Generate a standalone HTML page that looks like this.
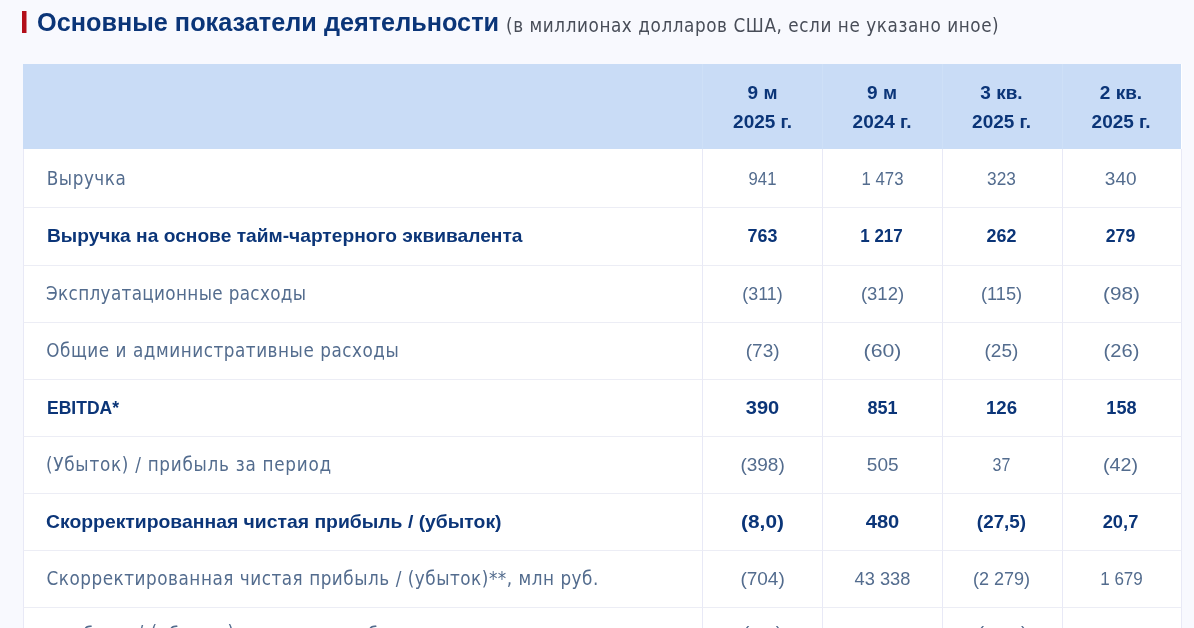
<!DOCTYPE html>
<html lang="ru">
<head>
<meta charset="utf-8">
<title>Основные показатели деятельности</title>
<style>
html,body{margin:0;padding:0;}
body{width:1194px;height:628px;overflow:hidden;background:#f8f9fe;font-family:"Liberation Sans", sans-serif;position:relative;}
.bar{position:absolute;left:22px;top:11px;width:4px;height:22px;background:#b30f1a;box-shadow:1px 0 0 rgba(179,15,26,.5);}
h2{margin:0;font-weight:400;font-size:18.7px;}
.t{position:absolute;white-space:nowrap;line-height:20px;transform-origin:0 50%;}
.t1{font-weight:700;color:#0b3578;font-size:26.5px;line-height:30px;}
.t2{font-family:"DejaVu Sans Condensed", "DejaVu Sans", "Liberation Sans", sans-serif;color:#484d58;font-size:18.7px;}
.wrap{position:absolute;left:23px;top:64px;width:1159px;height:564px;overflow:hidden;background:#fff;}
table{border-collapse:separate;border-spacing:0;table-layout:fixed;width:1159px;margin:0;}
th,td{position:relative;padding:0;margin:0;border:0 solid #e8e9f6;border-right-width:1px;overflow:visible;font-weight:400;text-align:left;}
th:first-child,td:first-child{border-left-width:1px;}
th{height:85px;background:#c9dcf6;border-color:#cee0f7;}
th:first-child{border-left-color:#c9dcf6;}
th:last-child{border-right-color:#fff;}
td{border-bottom:1px solid #ecedf5;background:#fff;}
.th{width:119px;text-align:center;font-weight:700;font-size:19px;color:#0b3578;}
.r{font-family:"DejaVu Sans Condensed", "DejaVu Sans", "Liberation Sans", sans-serif;font-size:18.7px;color:#536c8e;}
.b{font-weight:700;font-size:19px;color:#0b3578;}
.n{width:119px;text-align:center;transform-origin:50% 50%;font-size:19px;color:#536c8e;}
.n.b{color:#0b3578;}
.u{position:relative;}
</style>
</head>
<body>
<div class="bar"></div>
<h2><span class="t t1" id="t1" style="left:37.2px;top:7.1px;transform:scaleX(0.9536);">Основные показатели деятельности</span> <span class="t t2" id="t2" style="left:506px;top:15.5px;letter-spacing:0.585px;">(в миллионах долларов США, если не указано иное)</span></h2>
<div class="wrap">
<table>
<colgroup><col style="width:680px"><col style="width:120px"><col style="width:120px"><col style="width:120px"><col style="width:119px"></colgroup>
<thead>
<tr>
<th></th>
<th><span class="t th" style="left:0px;top:18.9px">9 м</span> <span class="t th" style="left:0px;top:47.7px">2025 г.</span></th>
<th><span class="t th" style="left:-0.5px;top:18.9px">9 м</span> <span class="t th" style="left:-0.5px;top:47.7px">2024 г.</span></th>
<th><span class="t th" style="left:-1.0px;top:18.9px">3 кв.</span> <span class="t th" style="left:-1.0px;top:47.7px">2025 г.</span></th>
<th><span class="t th" style="left:-1.5px;top:18.9px">2 кв.</span> <span class="t th" style="left:-1.5px;top:47.7px">2025 г.</span></th>
</tr>
</thead>
<tbody>
<tr style="height:59px">
<td><span class="t r" id="r0" style="left:22.8px;top:19.7px;letter-spacing:0.533px;">Выручка</span></td>
<td><span class="t n" style="left:0.1px;top:19.6px;transform:scaleX(0.877)">941</span></td>
<td><span class="t n" style="left:-0.3px;top:19.6px;transform:scaleX(0.883)">1 473</span></td>
<td><span class="t n" style="left:-1.1px;top:19.6px;transform:scaleX(0.908)">323</span></td>
<td><span class="t n" style="left:-1.8px;top:19.6px;transform:scaleX(1.000)">340</span></td>
</tr>
<tr style="height:58px">
<td><span class="t b" id="r1" style="left:23.0px;top:17.7px;transform:scaleX(1.0096);">Выручка на основе тайм-чартерного эквивалента</span></td>
<td><span class="t n b" style="left:-0.2px;top:17.7px;transform:scaleX(0.942)">763</span></td>
<td><span class="t n b" style="left:-0.6px;top:17.7px;transform:scaleX(0.893)">1 217</span></td>
<td><span class="t n b" style="left:-0.6px;top:17.7px;transform:scaleX(0.943)">262</span></td>
<td><span class="t n b" style="left:-1.9px;top:17.7px;transform:scaleX(0.932)">279</span></td>
</tr>
<tr style="height:57px">
<td><span class="t r" id="r2" style="left:22.0px;top:17.9px;letter-spacing:0.343px;">Эксплуатационные расходы</span></td>
<td><span class="t n" style="left:-0.3px;top:17.8px;transform:scaleX(0.939)">(311)</span></td>
<td><span class="t n" style="left:-0.5px;top:17.8px;transform:scaleX(0.973)">(312)</span></td>
<td><span class="t n" style="left:-0.6px;top:17.8px;transform:scaleX(0.959)">(115)</span></td>
<td><span class="t n" style="left:-1.5px;top:17.8px;transform:scaleX(1.091)">(98)</span></td>
</tr>
<tr style="height:57px">
<td><span class="t r" id="r3" style="left:22.3px;top:18.0px;letter-spacing:0.542px;">Общие и административные расходы</span></td>
<td><span class="t n" style="left:0.2px;top:17.9px;transform:scaleX(1.000)">(73)</span></td>
<td><span class="t n" style="left:-0.2px;top:17.9px;transform:scaleX(1.119)">(60)</span></td>
<td><span class="t n" style="left:-1.1px;top:17.9px;transform:scaleX(1.000)">(25)</span></td>
<td><span class="t n" style="left:-1.1px;top:17.9px;transform:scaleX(1.058)">(26)</span></td>
</tr>
<tr style="height:57px">
<td><span class="t b" id="r4" style="left:22.5px;top:18.0px;transform:scaleX(0.9223);">EBITDA*</span></td>
<td><span class="t n b" style="left:0.4px;top:18.0px;transform:scaleX(1.055)">390</span></td>
<td><span class="t n b" style="left:-0.3px;top:18.0px;transform:scaleX(0.949)">851</span></td>
<td><span class="t n b" style="left:-1.2px;top:18.0px;transform:scaleX(0.981)">126</span></td>
<td><span class="t n b" style="left:-1.2px;top:18.0px;transform:scaleX(0.955)">158</span></td>
</tr>
<tr style="height:57px">
<td><span class="t r" id="r5" style="left:22.0px;top:18.2px;letter-spacing:0.733px;">(Убыток) / прибыль за период</span></td>
<td><span class="t n" style="left:0.1px;top:18.1px;transform:scaleX(1.000)">(398)</span></td>
<td><span class="t n" style="left:0.2px;top:18.1px;transform:scaleX(1.000)">505</span></td>
<td><span class="t n" style="left:-1.3px;top:18.1px;transform:scaleX(0.840)">37</span></td>
<td><span class="t n" style="left:-1.7px;top:18.1px;transform:scaleX(1.036)">(42)</span></td>
</tr>
<tr style="height:57px">
<td><span class="t b" id="r6" style="left:22.3px;top:18.2px;transform:scaleX(1.0188);">Скорректированная чистая прибыль / (убыток)</span></td>
<td><span class="t n b" style="left:0.4px;top:18.2px;transform:scaleX(1.095)">(8,0)</span></td>
<td><span class="t n b" style="left:-0.5px;top:18.2px;transform:scaleX(1.058)">480</span></td>
<td><span class="t n b" style="left:-0.9px;top:18.2px;transform:scaleX(0.992)">(27,5)</span></td>
<td><span class="t n b" style="left:-2.1px;top:18.2px;transform:scaleX(0.964)">20,7</span></td>
</tr>
<tr style="height:57px">
<td><span class="t r" id="r7" style="left:22.5px;top:18.4px;letter-spacing:0.533px;">Скорректированная чистая прибыль / (убыток)**, млн руб.</span></td>
<td><span class="t n" style="left:0.1px;top:18.3px;transform:scaleX(1.000)">(704)</span></td>
<td><span class="t n" style="left:-0.2px;top:18.3px;transform:scaleX(0.960)">43 338</span></td>
<td><span class="t n" style="left:-1.2px;top:18.3px;transform:scaleX(0.950)">(2 279)</span></td>
<td><span class="t n" style="left:-1.2px;top:18.3px;transform:scaleX(0.896)">1 679</span></td>
</tr>
<tr style="height:58px">
<td><span class="t r" id="r8" style="left:22.0px;top:18.5px;letter-spacing:0.950px;">При<span class="u" style="top:-1.6px">б</span>ыль <span class="u" style="top:-3.1px">/</span> <span class="u" style="top:-3.1px">(</span>у<span class="u" style="top:-1.6px">б</span>ыток<span class="u" style="top:-3.1px">)</span> на акцию, ру<span class="u" style="top:-1.6px">б</span>.</span></td>
<td><span class="t n" style="left:0.0px;top:18.4px;transform:scaleX(1.000)"><span class="u" style="top:-3.7px">(</span>0,3<span class="u" style="top:-3.7px">)</span></span></td>
<td><span class="t n" style="left:0.0px;top:18.4px;transform:scaleX(1.000)">18,2</span></td>
<td><span class="t n" style="left:0.0px;top:18.4px;transform:scaleX(1.000)"><span class="u" style="top:-3.7px">(</span>10,2<span class="u" style="top:-3.7px">)</span></span></td>
<td><span class="t n" style="left:0.0px;top:18.4px;transform:scaleX(1.000)">0,7</span></td>
</tr>
</tbody>
</table>
</div>
</body>
</html>
